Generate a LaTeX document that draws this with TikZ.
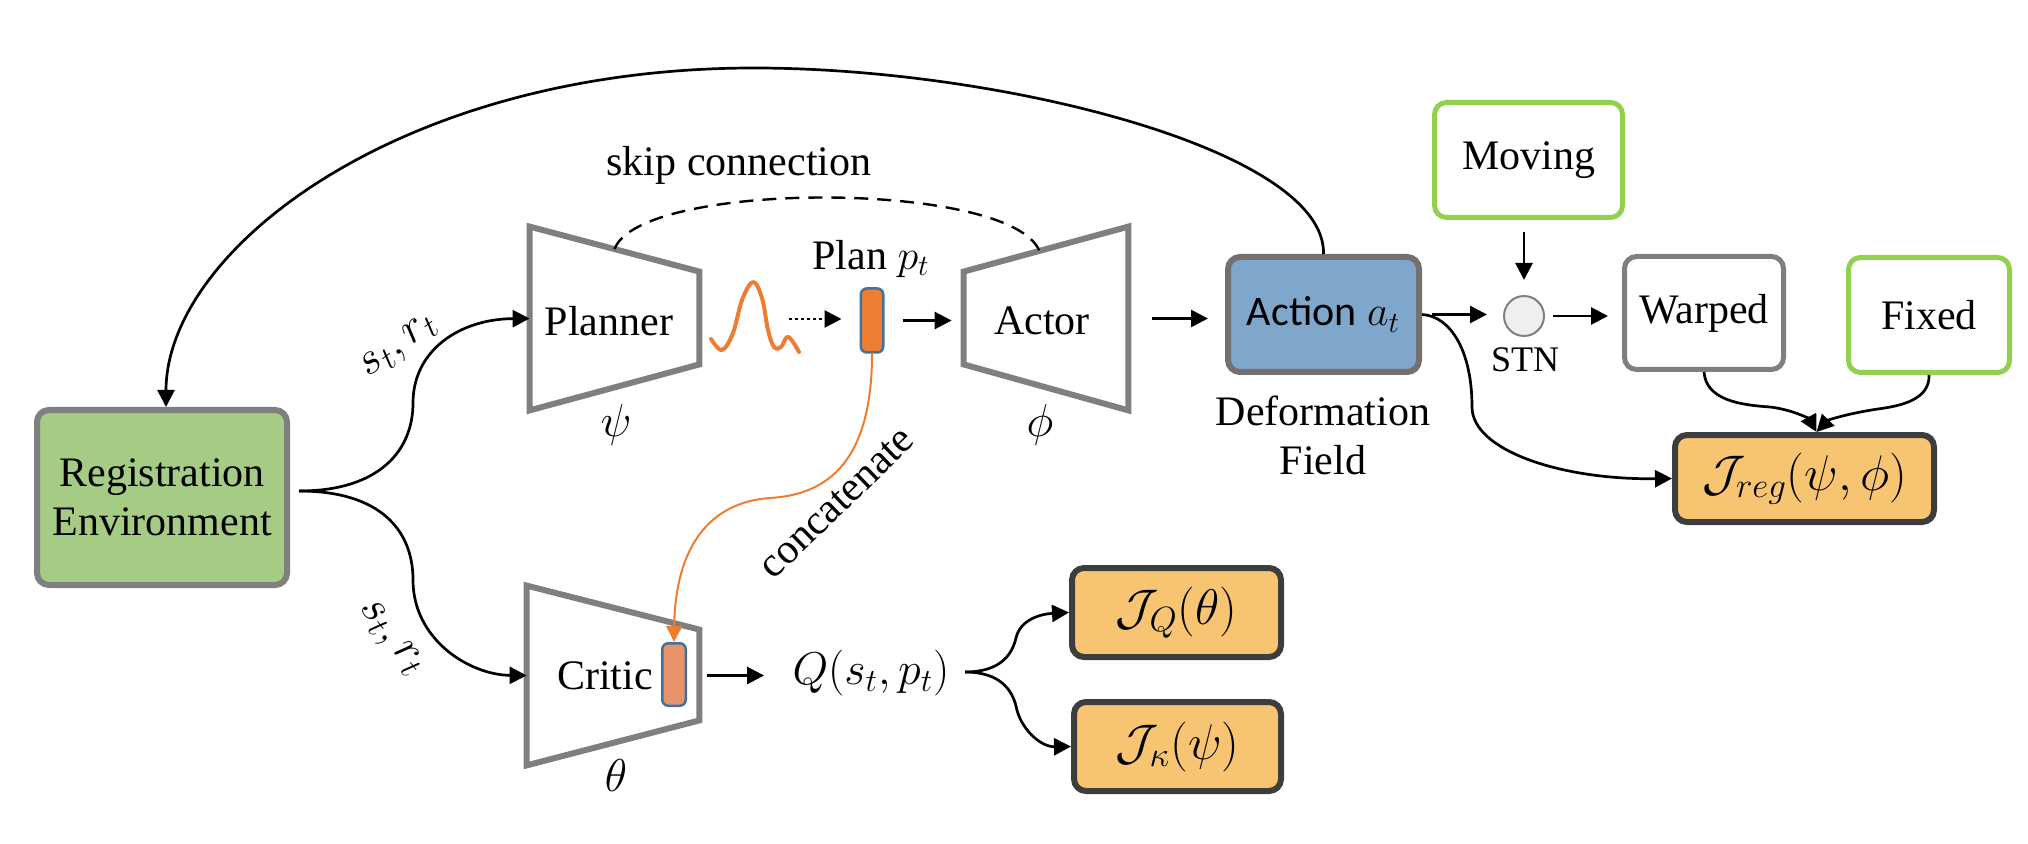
\RequirePackage{fix-cm}
\documentclass[tikz,border=0pt]{standalone}
\usepackage{fontspec}
\setmainfont{Liberation Serif}
\newfontfamily\serifface{Liberation Serif}
\newfontfamily\calibri{Carlito}
\usetikzlibrary{arrows.meta,calc}
\definecolor{regg}{HTML}{A5CB85}
\definecolor{grayb}{HTML}{7F7F7F}
\definecolor{actb}{HTML}{7FA6CB}
\definecolor{actbd}{HTML}{747070}
\definecolor{orng}{HTML}{ED7D31}
\definecolor{orngl}{HTML}{E9936A}
\definecolor{blueb}{HTML}{41719C}
\definecolor{greenb}{HTML}{92D050}
\definecolor{jfill}{HTML}{F7C572}
\definecolor{jbd}{HTML}{3D3D3D}
\definecolor{stnf}{HTML}{EFEFEF}
\begin{document}
\begin{tikzpicture}[x=0.5pt,y=-0.5pt,
  every node/.style={font=\serifface\fontsize{21}{24.5}\selectfont, inner sep=0pt},
  arr/.style={line width=1.35pt, -{Triangle[length=8.5pt,width=8.5pt]}},
  rbox/.style={draw, rounded corners=6pt, line width=3pt, align=center},
  gbox/.style={draw, rounded corners=6pt, line width=2.5pt, align=center},
  jbox/.style={rbox, draw=jbd, fill=jfill, font=\fontsize{25}{29}\selectfont},
  trap/.style={draw=grayb, line width=3pt, line join=miter},
  vec/.style={draw=blueb, line width=1.25pt, rounded corners=3pt},
  lbl/.style={font=\fontsize{23}{27}\selectfont}
]
\useasboundingbox (0,0) rectangle (2028,844);

% Registration environment
\node[rbox, draw=grayb, fill=regg, minimum width=125pt, minimum height=87.5pt] (reg) at (162,497.5) {Registration\\Environment};

% Planner
\node[minimum width=84.5pt, minimum height=91.5pt] (plannerbox) at (614.5,318.5) {};
\draw[trap] (plannerbox.north west) -- ([yshift=-22.5pt]plannerbox.north east) -- ([yshift=23pt]plannerbox.south east) -- (plannerbox.south west) -- cycle;
\node (plannertxt) at (609,321) {Planner};
\node[lbl] (psi) at (616,425) {$\psi$};

% Gaussian
\draw[orng, line width=2pt, line cap=round, line join=round] plot[smooth, tension=0.6] coordinates {(711,339) (722,350) (733,333) (742,300) (753,282) (762,298) (768,330) (774,347) (781,347) (787,337) (793,342) (799,352)};
\coordinate (gend) at (789,319);

% Plan vector
\node[vec, fill=orng, minimum width=11.25pt, minimum height=32pt] (planr) at (872,320.5) {};
\node (plantxt) at (871,259) {Plan $p_t$};

% Actor
\node[minimum width=82pt, minimum height=91.5pt] (actorbox) at (1046,318.5) {};
\draw[trap] ([yshift=-22.5pt]actorbox.north west) -- (actorbox.north east) -- (actorbox.south east) -- ([yshift=23pt]actorbox.south west) -- cycle;
\node (actortxt) at (1042,321) {Actor};
\node[lbl] (phi) at (1040,425) {$\phi$};

% Action
\node[rbox, draw=actbd, fill=actb, minimum width=95.5pt, minimum height=57.5pt] (action) at (1323.5,314.5) {{\calibri Action} $a_t$};
\node[align=center] (deform) at (1323,435) {Deformation\\Field};

% STN
\node[circle, draw=grayb, fill=stnf, line width=1pt, minimum size=20pt] (stn) at (1524,316) {};
\node[font=\serifface\fontsize{18}{21}\selectfont] (stntxt) at (1525,360) {STN};

% Moving / Warped / Fixed
\node[gbox, draw=greenb, minimum width=94pt, minimum height=57.5pt] (moving) at (1528.5,160) {Moving};
\node[gbox, draw=grayb, minimum width=79.5pt, minimum height=56.5pt] (warped) at (1704,313) {Warped};
\node[gbox, draw=greenb, minimum width=80.5pt, minimum height=57.5pt] (fixed) at (1929,315) {Fixed};

% Losses
\node[jbox, minimum width=129.5pt, minimum height=43.5pt] (jreg) at (1804.5,478.5) {$\mathcal{J}_{reg}(\psi,\phi)$};
\node[jbox, minimum width=104.5pt, minimum height=44.5pt] (jq) at (1176.5,612.5) {$\mathcal{J}_{Q}(\theta)$};
\node[jbox, minimum width=103.5pt, minimum height=44.5pt] (jk) at (1177.5,746.5) {$\mathcal{J}_{\kappa}(\psi)$};

% Critic
\node[minimum width=86pt, minimum height=89.5pt] (criticbox) at (613,675.5) {};
\draw[trap] (criticbox.north west) -- ([yshift=-22pt]criticbox.north east) -- ([yshift=22.5pt]criticbox.south east) -- (criticbox.south west) -- cycle;
\node (critictxt) at (605,676) {Critic};
\node[vec, fill=orngl, minimum width=11.75pt, minimum height=31.25pt] (criticr) at (674,674.5) {};
\node[lbl] (theta) at (616,776) {$\theta$};
\node[lbl] (q) at (871,673) {$Q(s_t,p_t)$};

% Labels
\node (skiptxt) at (739,165) {skip connection};
\node[lbl, rotate=37] (lab1) at (400,347) {$s_t, r_t$};
\node[lbl, rotate=-52] (lab2) at (390,639) {$s_t, r_t$};
\node[rotate=44] (concat) at (837,503) {concatenate};

% Connectors
\coordinate (split) at (299,491);
\draw[arr] (split) .. controls (380,491) and (413,450) .. (413,403) .. controls (413,350) and (460,319) .. (plannerbox.west);
\draw[arr] (split) .. controls (380,491) and (413,530) .. (413,580) .. controls (413,640) and (470,675) .. (criticbox.west);

\draw[arr] (action.north) .. controls (1326,150) and (1000,68) .. (754,68) .. controls (400,68) and (166,250) .. ([xshift=2pt]reg.north);

\coordinate (skipA) at ($(plannerbox.north west)!0.5!([yshift=-22.5pt]plannerbox.north east)$);
\coordinate (skipB) at ($([yshift=-22.5pt]actorbox.north west)!0.46!(actorbox.north east)$);
\draw[line width=1.2pt, dash pattern=on 7pt off 4.5pt] (skipA) .. controls (640,180) and (1010,180) .. (skipB);

\draw[orng, line width=1pt, -{Triangle[length=8pt,width=8pt]}] (planr.south) .. controls (872,470) and (820,495) .. (770,498) .. controls (700,503) and (675,560) .. (criticr.north);

\draw[arr, dash pattern=on 1.5pt off 1.5pt, shorten >=9pt] (gend) -- (gend -| planr.west);
\draw[arr, shorten <=9pt, shorten >=6pt] (planr.east) -- (planr.east -| actorbox.west);
\draw[arr, shorten <=12pt, shorten >=8.5pt] (actorbox.east) -- (actorbox.east -| action.west);
\draw[arr, shorten <=5pt, shorten >=8pt] (action.east) -- (action.east -| stn.west);
\draw[arr, shorten <=4pt, shorten >=7pt] (stn.east) -- (stn.east -| warped.west);
\draw[arr, shorten <=6pt, shorten >=7.5pt] (stn.north |- moving.south) -- (stn.north);
\draw[arr, shorten <=4pt, shorten >=14pt] (criticbox.east) -- (criticbox.east -| q.west);

\coordinate (qs) at (965,672);
\draw[arr] (qs) .. controls (1000,672) and (1012,655) .. (1016,638) .. controls (1020,620) and (1040,614) .. (jq.west);
\draw[arr] (qs) .. controls (1000,672) and (1012,690) .. (1016,706) .. controls (1020,728) and (1040,747) .. (jk.west);

\draw[arr] (warped.south) .. controls (1706,400) and (1740,405) .. (1770,407) .. controls (1795,410) and (1810,420) .. ([xshift=6pt]jreg.north);
\draw[arr] (fixed.south) .. controls (1930,400) and (1900,406) .. (1878,409) .. controls (1850,413) and (1828,420) .. ([xshift=6pt]jreg.north);
\draw[arr] (action.east) .. controls (1450,316) and (1472,350) .. (1472,407) .. controls (1472,450) and (1560,480) .. (jreg.west);
\end{tikzpicture}
\end{document}
